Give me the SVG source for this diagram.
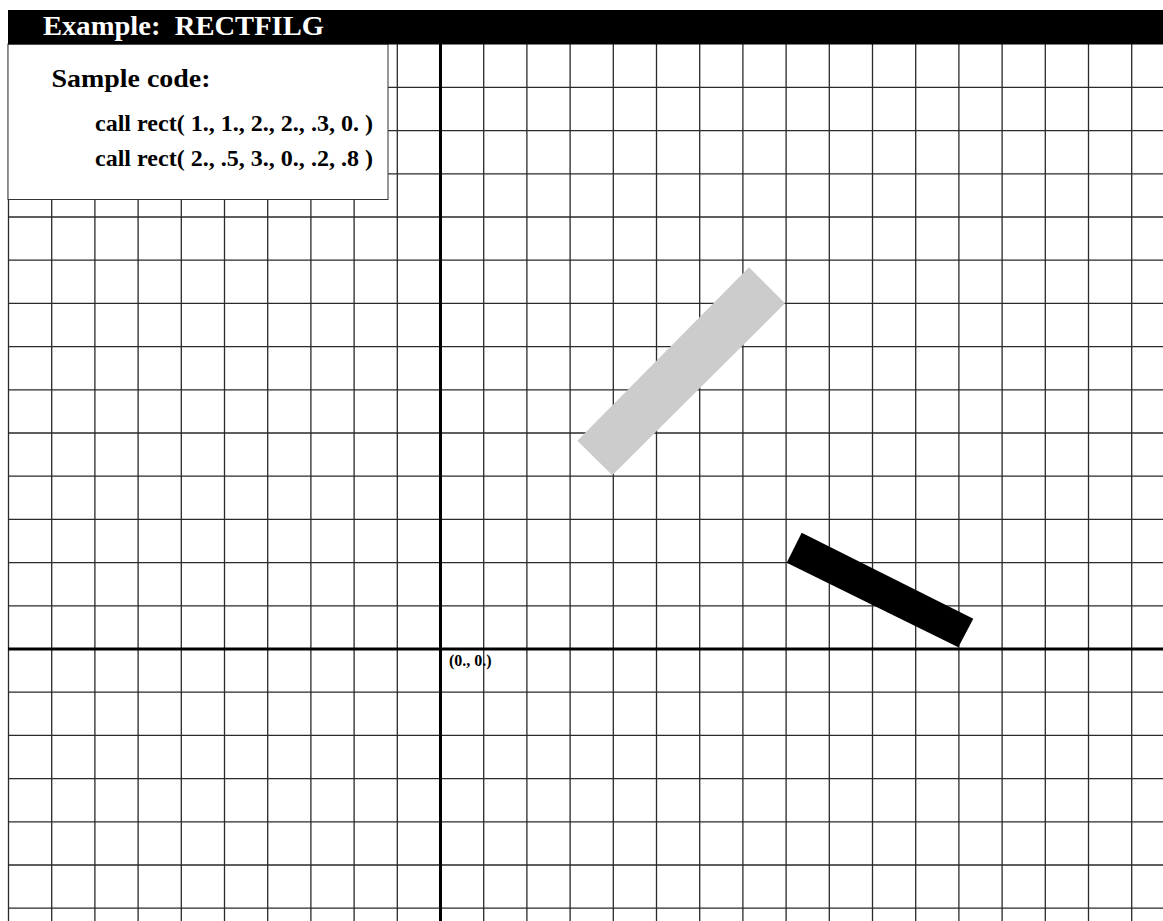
<svg xmlns="http://www.w3.org/2000/svg" width="1163" height="921" viewBox="0 0 1163 921">
<style>
.grid{stroke:#2a2a2a;stroke-width:1.3;fill:none}
.axis{stroke:#000;stroke-width:3;fill:none}
.t{font-family:"Liberation Serif","Times New Roman",serif;font-weight:bold;white-space:pre}
</style>
<rect x="0" y="0" width="1163" height="921" fill="#fff"/>
<g id="grid">
<path class="grid" d="M8.5,44V921 M51.7,44V921 M94.9,44V921 M138.1,44V921 M181.3,44V921 M224.5,44V921 M267.7,44V921 M310.9,44V921 M354.1,44V921 M397.3,44V921 M483.7,44V921 M526.9,44V921 M570.1,44V921 M613.3,44V921 M656.5,44V921 M699.7,44V921 M742.9,44V921 M786.1,44V921 M829.3,44V921 M872.5,44V921 M915.7,44V921 M958.9,44V921 M1002.1,44V921 M1045.3,44V921 M1088.5,44V921 M1131.7,44V921"/>
<path class="grid" d="M8,87.4H1163 M8,130.6H1163 M8,173.8H1163 M8,217H1163 M8,260.2H1163 M8,303.4H1163 M8,346.6H1163 M8,389.8H1163 M8,433H1163 M8,476.2H1163 M8,519.4H1163 M8,562.6H1163 M8,605.8H1163 M8,692.2H1163 M8,735.4H1163 M8,778.6H1163 M8,821.8H1163 M8,865H1163 M8,908.2H1163"/>
<path class="axis" d="M440.5,44V921 M8,649H1163"/>
</g>
<g id="rect1">
<polygon points="577.3,440.7 612.3,475.3 785,303.3 749,267.3" fill="#cccccc"/>
</g>
<g id="rect2">
<polygon points="801.7,532.7 786.7,562.7 958.3,647.3 973.3,618.7" fill="#000"/>
</g>
<g id="origin-label">
<text class="t" x="449" y="666" font-size="16">(0., 0.)</text>
</g>
<g id="code-box">
<rect x="8" y="44" width="380" height="155.5" fill="#fff" stroke="#333" stroke-width="1"/>
<text class="t" x="51.5" y="87" font-size="25" textLength="159" lengthAdjust="spacingAndGlyphs">Sample code:</text>
<text class="t" x="95" y="131" font-size="24" textLength="278" lengthAdjust="spacingAndGlyphs">call rect( 1., 1., 2., 2., .3, 0. )</text>
<text class="t" x="95" y="166" font-size="24" textLength="278" lengthAdjust="spacingAndGlyphs">call rect( 2., .5, 3., 0., .2, .8 )</text>
</g>
<g id="header">
<rect x="8" y="10" width="1155" height="34.5" fill="#000"/>
<text class="t" x="43" y="35" font-size="27" fill="#fff" textLength="281" lengthAdjust="spacingAndGlyphs" xml:space="preserve">Example:  RECTFILG</text>
</g>
</svg>
